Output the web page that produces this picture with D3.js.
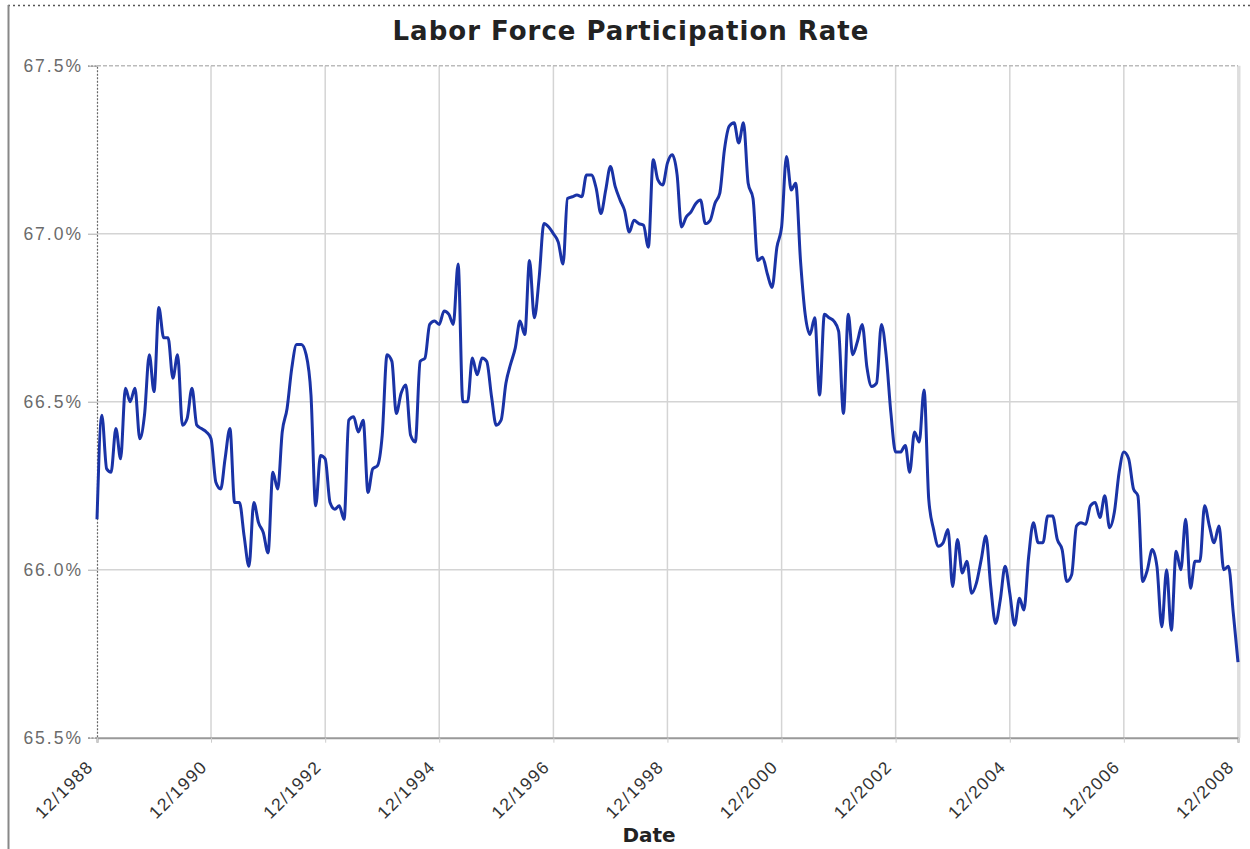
<!DOCTYPE html>
<html>
<head>
<meta charset="utf-8">
<script src="https://cdnjs.cloudflare.com/ajax/libs/d3/7.8.5/d3.min.js"></script>
<style>
  body { margin: 0; background: #fff; }
  svg { display: block; font-family: "DejaVu Sans", Verdana, sans-serif; }
</style>
</head>
<body>
<svg id="chart" width="1250" height="849"></svg>
<script>
'use strict'

//---------------------------Datos--------------------------------//
// primer mes de la serie (mensual)
var startMonth = '12/1988';

// tasa de participación (%), un valor por mes desde 12/1988 hasta 12/2008
var rates = [
  66.15, 66.46, 66.30, 66.29, 66.42, 66.33, 66.54, 66.50, 66.54, 66.39, 66.46, 66.64,
  66.53, 66.78, 66.69, 66.69, 66.57, 66.64, 66.43, 66.45, 66.54, 66.43, 66.42, 66.41,
  66.39, 66.26, 66.24, 66.33, 66.42, 66.20, 66.20, 66.10, 66.01, 66.20, 66.14, 66.11,
  66.05, 66.29, 66.24, 66.41, 66.48, 66.60, 66.67, 66.67, 66.64, 66.52, 66.19, 66.34,
  66.33, 66.20, 66.18, 66.19, 66.15, 66.445, 66.455, 66.41, 66.445, 66.23, 66.30, 66.31,
  66.40, 66.64, 66.62, 66.465, 66.525, 66.55, 66.40, 66.38, 66.62, 66.63, 66.73, 66.74,
  66.73, 66.77, 66.76, 66.73, 66.91, 66.50, 66.50, 66.63, 66.58, 66.63, 66.62, 66.515,
  66.43, 66.445, 66.555, 66.61, 66.66, 66.74, 66.70, 66.92, 66.75, 66.87, 67.03, 67.02,
  67.00, 66.975, 66.91, 67.105, 67.11, 67.115, 67.11, 67.175, 67.175, 67.135, 67.06, 67.13,
  67.20, 67.14, 67.10, 67.07, 67.005, 67.04, 67.03, 67.025, 66.96, 67.22, 67.16, 67.145,
  67.21, 67.235, 67.175, 67.02, 67.05, 67.065, 67.09, 67.10, 67.03, 67.04, 67.09, 67.12,
  67.25, 67.32, 67.33, 67.27, 67.33, 67.15, 67.105, 66.92, 66.93, 66.88, 66.84, 66.96,
  67.02, 67.23, 67.13, 67.15, 66.92, 66.76, 66.70, 66.75, 66.52, 66.76, 66.75, 66.74,
  66.71, 66.465, 66.76, 66.64, 66.68, 66.73, 66.60, 66.545, 66.555, 66.73, 66.64, 66.465,
  66.35, 66.35, 66.37, 66.29, 66.41, 66.38, 66.535, 66.21, 66.12, 66.07, 66.08, 66.12,
  65.95, 66.09, 65.99, 66.025, 65.93, 65.96, 66.03, 66.10, 65.95, 65.84, 65.91, 66.01,
  65.93, 65.835, 65.915, 65.88, 66.04, 66.14, 66.08, 66.08, 66.16, 66.16, 66.09, 66.06,
  65.965, 65.985, 66.13, 66.14, 66.135, 66.19, 66.20, 66.155, 66.22, 66.125, 66.17, 66.29,
  66.35, 66.33, 66.24, 66.22, 65.965, 66.00, 66.06, 66.01, 65.83, 66.00, 65.82, 66.055,
  66.00, 66.15, 65.945, 66.025, 66.025, 66.19, 66.13, 66.08, 66.13, 66.00, 66.01, 65.87,
  65.725
];

var xTickLabels = ['12/1988', '12/1990', '12/1992', '12/1994', '12/1996', '12/1998',
  '12/2000', '12/2002', '12/2004', '12/2006', '12/2008'];
var yTickValues = [65.5, 66.0, 66.5, 67.0, 67.5];

//---------------------------Gráfica--------------------------------//
var parseMonth = d3.timeParse('%m/%Y');
var first = parseMonth(startMonth);
var datos = rates.map(function (v, i) {
  return { fecha: d3.timeMonth.offset(first, i), valor: v };
});

var margin = { top: 65.7, right: 12, bottom: 111.3, left: 97 },
  width = 1250 - margin.left - margin.right,
  height = 849 - margin.top - margin.bottom;

var svg = d3.select('#chart');

// marco exterior de la captura
svg.append('line')
  .attr('x1', 8).attr('x2', 1250).attr('y1', 5.5).attr('y2', 5.5)
  .attr('stroke', '#555').attr('stroke-width', 1.5).attr('stroke-dasharray', '2,3');
svg.append('line')
  .attr('x1', 8.5).attr('x2', 8.5).attr('y1', 5).attr('y2', 849)
  .attr('stroke', '#888').attr('stroke-width', 2);

svg.append('text')
  .attr('x', 631).attr('y', 40)
  .attr('text-anchor', 'middle')
  .style('font-size', '26px').style('font-weight', 'bold').style('fill', '#222')
  .style('letter-spacing', '1px')
  .text('Labor Force Participation Rate');

var g = svg.append('g')
  .attr('transform', 'translate(' + margin.left + ',' + margin.top + ')');

var x = d3.scaleTime()
  .domain([first, datos[datos.length - 1].fecha])
  .range([0, width]);
var y = d3.scaleLinear().domain([65.5, 67.5]).range([height, 0]);

var xTicks = xTickLabels.map(parseMonth);

// rejilla
g.append('g')
  .selectAll('line.vgrid')
  .data(xTicks.slice(1))
  .enter().append('line')
  .attr('x1', function (d) { return x(d); })
  .attr('x2', function (d) { return x(d); })
  .attr('y1', 0).attr('y2', height)
  .attr('stroke', '#d4d4d4').attr('stroke-width', 1.5);

g.append('g')
  .selectAll('line.hgrid')
  .data(yTickValues.slice(1, -1))
  .enter().append('line')
  .attr('x1', 0).attr('x2', width)
  .attr('y1', function (d) { return y(d); })
  .attr('y2', function (d) { return y(d); })
  .attr('stroke', '#d4d4d4').attr('stroke-width', 1.5);

// borde superior discontinuo
g.append('line')
  .attr('x1', 0).attr('x2', width).attr('y1', y(67.5)).attr('y2', y(67.5))
  .attr('stroke', '#bbb').attr('stroke-width', 1.5).attr('stroke-dasharray', '4,2');

// eje Y
var yAxis = g.append('g')
  .call(d3.axisLeft(y).tickValues(yTickValues).tickSize(9).tickPadding(5)
    .tickFormat(function (d) { return d.toFixed(1) + '%'; }));
yAxis.select('.domain')
  .attr('stroke', '#666').attr('stroke-width', 1.2).attr('stroke-dasharray', '2,1.5');
yAxis.selectAll('.tick line').attr('stroke', '#aaa');
yAxis.selectAll('text')
  .style('font-size', '17.5px').style('letter-spacing', '2px').style('fill', '#6b6b6b');

// eje X
var xAxis = g.append('g')
  .attr('transform', 'translate(0,' + height + ')')
  .call(d3.axisBottom(x).tickValues(xTicks).tickSize(5)
    .tickFormat(d3.timeFormat('%m/%Y')));
xAxis.select('.domain').attr('stroke', '#999').attr('stroke-width', 2);
xAxis.selectAll('.tick line').attr('stroke', '#ccc');
xAxis.selectAll('text')
  .attr('text-anchor', 'end')
  .attr('y', 0).attr('dy', 0)
  .attr('transform', 'translate(-3,30) rotate(-45)')
  .style('font-size', '17.5px').style('letter-spacing', '1.5px').style('fill', '#333');

// borde derecho
g.append('line')
  .attr('x1', width + 1.5).attr('x2', width + 1.5).attr('y1', 0).attr('y2', height)
  .attr('stroke', '#ddd').attr('stroke-width', 2);

svg.append('text')
  .attr('x', 649).attr('y', 842)
  .attr('text-anchor', 'middle')
  .style('font-size', '20px').style('font-weight', 'bold').style('fill', '#222')
  .text('Date');

// línea de la serie
var linea = d3.line()
  .x(function (d) { return x(d.fecha); })
  .y(function (d) { return y(d.valor); })
  .curve(d3.curveMonotoneX);

g.append('path')
  .datum(datos)
  .attr('fill', 'none')
  .attr('stroke', '#1a33a6')
  .attr('stroke-width', 3)
  .attr('stroke-linejoin', 'round')
  .attr('d', linea);
</script>
</body>
</html>
